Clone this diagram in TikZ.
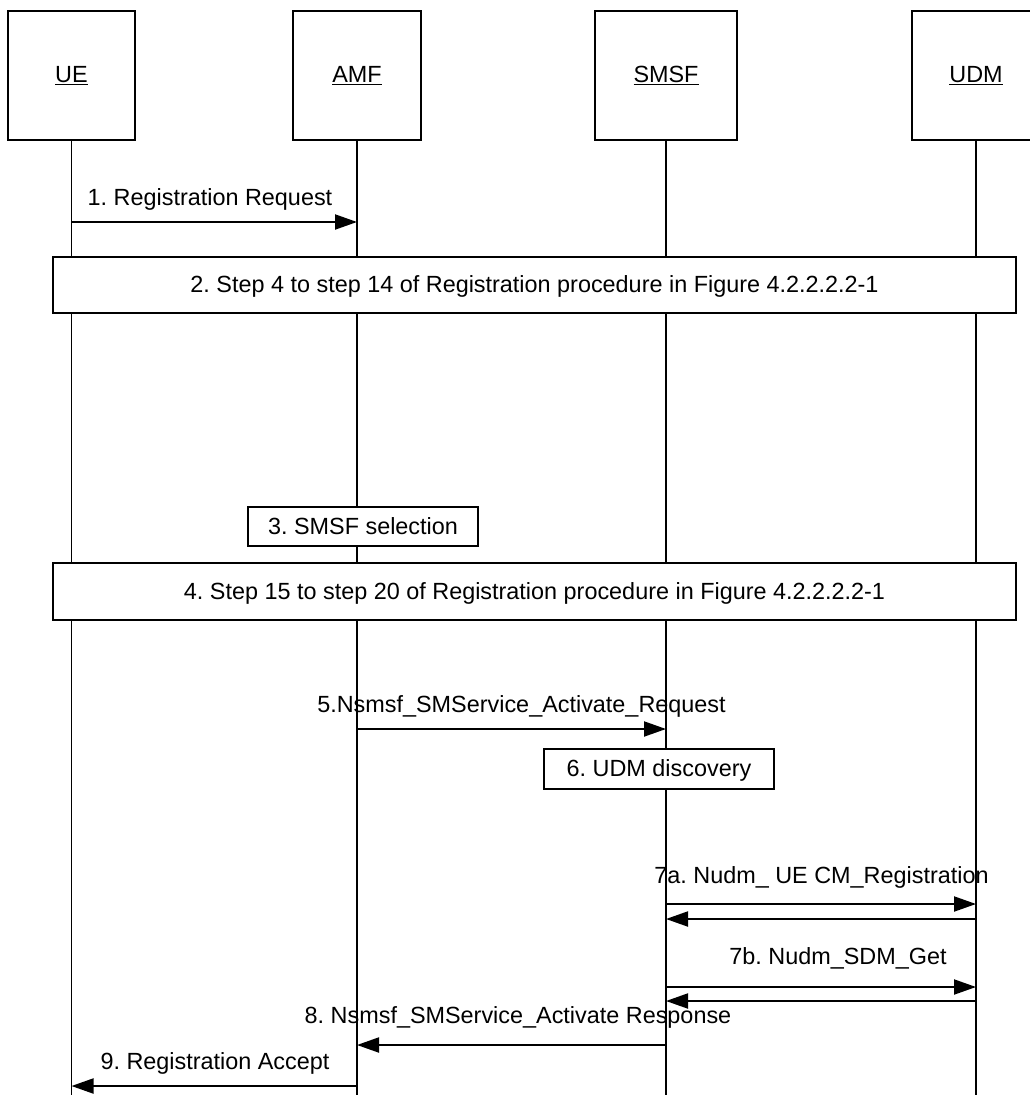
\documentclass[tikz,border=0pt]{standalone}
\usepackage{fontspec}
\setmainfont{Liberation Sans}
\usetikzlibrary{arrows.meta,positioning,calc}
\frenchspacing
\newcommand{\entname}[1]{\setbox0=\hbox{#1}\rlap{\rule[-2.6pt]{\wd0}{1.1pt}}\box0}
\tikzset{every picture/.style={line width=1.2pt}}
\tikzset{
    entity/.style={draw, fill=white, minimum height=129pt, inner sep=0pt},
    stepbox/.style={draw, fill=white, inner sep=0pt, text height=20pt, text depth=5pt},
    msg/.style={line width=2pt, -{Triangle[length=22pt,width=15pt]}},
    lbl/.style={anchor=base, inner sep=0pt}
}

\begin{document}
\begin{tikzpicture}[x=1pt, y=-1pt, font=\fontsize{23.4}{28}\selectfont]
    \useasboundingbox (0,0) rectangle (1030,1095);
    \node[entity, minimum width=127pt] (ue) at (71.5,75.5) {\entname{UE}};
    \node[entity, minimum width=128pt] (amf) at (357,75.5) {\entname{AMF}};
    \node[entity, minimum width=142pt] (smsf) at (666,75.5) {\entname{SMSF}};
    \node[entity, minimum width=128pt] (udm) at (976,75.5) {\entname{UDM}};
    \foreach \n in {ue,amf,smsf,udm} {
        \coordinate (\n-end) at (\n |- 0,1095);
        \draw (\n) -- (\n-end);
    }
    \foreach \y/\s/\t/\i in {222/ue/amf/1, 729/amf/smsf/5, 904/smsf/udm/7a, 919/udm/smsf/7r,
        987/smsf/udm/7b, 1001/udm/smsf/7s, 1045/smsf/amf/8, 1086/amf/ue/9} {
        \coordinate (s\i) at (\s |- 0,\y);
        \coordinate (t\i) at (\t |- 0,\y);
        \draw[msg] (s\i) -- (t\i);
    }
    \node[stepbox, minimum width=963pt, minimum height=56pt] (step2) at (534.5,285)
        {2. Step 4 to step 14 of Registration procedure in Figure 4.2.2.2.2-1};
    \node[stepbox, minimum width=230pt, minimum height=39pt] (step3) at (363,526.5) {3. SMSF selection};
    \node[stepbox, minimum width=963pt, minimum height=57pt] (step4) at (534.5,591.5)
        {4. Step 15 to step 20 of Registration procedure in Figure 4.2.2.2.2-1};
    \node[stepbox, minimum width=230pt, minimum height=40pt] (step6) at (659,769) {6. UDM discovery};
    \node[lbl] (l1) at (210,205) {1. Registration Request};
    \node[lbl] (l5) at (521.5,712) {5.Nsmsf\_SMService\_Activate\_Request};
    \node[lbl] (l7a) at (821.5,883) {7a. Nudm\_ UE CM\_Registration};
    \node[lbl] (l7b) at (838,964) {7b. Nudm\_SDM\_Get};
    \node[lbl] (l8) at (518,1023) {8. Nsmsf\_SMService\_Activate Response};
    \node[lbl] (l9) at (215,1069) {9. Registration Accept};
\end{tikzpicture}
\end{document}
